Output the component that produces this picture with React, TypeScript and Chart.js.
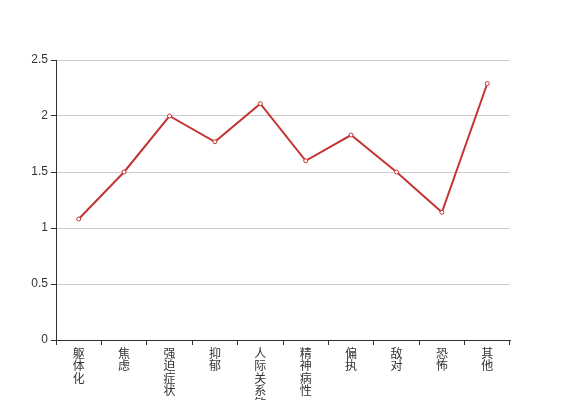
import React, { useEffect, useRef } from "react";
import { Chart, registerables } from "chart.js";

Chart.register(...registerables);

const categories: string[] = ["躯体化", "焦虑", "强迫症状", "抑郁", "人际关系敏感", "精神病性", "偏执", "敌对", "恐怖", "其他"];
const values: number[] = [1.08, 1.5, 2.0, 1.77, 2.11, 1.6, 1.83, 1.5, 1.14, 2.29];
const yMin = 0;
const yMax = 2.5;
const yStep = 0.5;

const FONT = "'Liberation Sans', 'Noto Sans CJK SC', sans-serif";

export default function App() {
  const ref = useRef<HTMLCanvasElement>(null);
  useEffect(() => {
    if (!ref.current) return;
    const chart = new Chart(ref.current, {
      type: "line",
      data: {
        labels: categories.map((c) => c.split("")),
        datasets: [
          {
            data: values,
            borderColor: "#c23531",
            backgroundColor: "#ffffff",
            borderWidth: 2,
            pointRadius: 2,
            pointBorderWidth: 1,
            pointBackgroundColor: "#ffffff",
            pointBorderColor: "#c23531",
            tension: 0,
          },
        ],
      },
      options: {
        animation: false,
        responsive: false,
        layout: { padding: { top: 60, right: 57, left: 0, bottom: 0 } },
        plugins: { legend: { display: false }, tooltip: { enabled: false } },
        scales: {
          x: {
            type: "category",
            offset: true,
            grid: {
              display: true,
              drawOnChartArea: false,
              drawTicks: true,
              tickLength: 5,
              offset: true,
              color: "#333",
              tickColor: "#333",
            },
            border: { color: "#333", width: 1 },
            ticks: {
              autoSkip: false,
              maxRotation: 0,
              minRotation: 0,
              color: "#333",
              padding: 3,
              font: { family: FONT, size: 12, lineHeight: "12.5px" },
            },
            afterFit: (s: any) => {
              s.height = 60;
            },
          },
          y: {
            min: yMin,
            max: yMax,
            ticks: {
              stepSize: yStep,
              color: "#333",
              padding: 3,
              font: { family: FONT, size: 12 },
              callback: (v: any) => String(Number(v)),
            },
            grid: {
              color: "#ccc",
              tickColor: "#333",
              tickLength: 5,
            },
            border: { color: "#333", width: 1 },
            afterFit: (s: any) => {
              s.width = 56;
            },
          },
        },
      },
    });
    return () => chart.destroy();
  }, []);
  return (
    <div style={{ position: "fixed", left: 0, top: 0, width: 567, height: 400, background: "#fff" }}>
      <canvas ref={ref} width={567} height={400} style={{ width: 567, height: 400 }} />
    </div>
  );
}
